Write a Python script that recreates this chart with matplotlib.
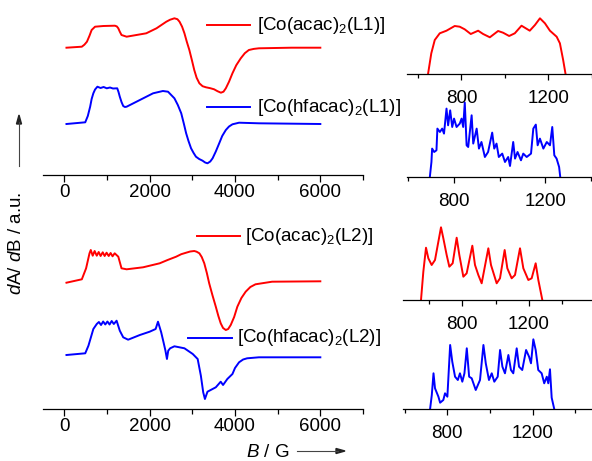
import matplotlib
matplotlib.use("Agg")
import matplotlib.pyplot as plt
from matplotlib.lines import Line2D
from matplotlib.ticker import MultipleLocator, NullFormatter

plt.rcParams["font.family"] = ["Liberation Sans", "DejaVu Sans"]
plt.rcParams["mathtext.fontset"] = "custom"
plt.rcParams["mathtext.rm"] = "Liberation Sans"
plt.rcParams["mathtext.it"] = "Liberation Sans:italic"
plt.rcParams["lines.solid_joinstyle"] = "round"

RED = "#ff0000"
BLUE = "#0000ff"

# full-field spectra, field in G, signal in a.u. (relative to baseline)
b_acac_l1 = [50, 410, 470, 530, 590, 640, 720, 915, 1185, 1230, 1265, 1300, 1340, 1460, 1920,
             2160, 2390, 2480, 2580, 2650, 2700, 2760, 2815, 2870, 2930, 2990, 3045, 3100, 3165,
             3240, 3320, 3420, 3510, 3590, 3670, 3730, 3785, 3860, 3940, 4030, 4135, 4230, 4325,
             4440, 4560, 5325, 6000]
s_acac_l1 = [0, 1, 3, 6, 12, 17.7, 21, 21.7, 22, 21.3, 19.4, 16, 12.7, 11, 14.4,
             19.4, 26, 28, 29.4, 28.5, 26, 21, 14.4, 6, -2.3, -12.5, -22.3, -30, -35.6,
             -38.5, -39.6, -40.5, -41.6, -43.5, -45, -44, -40.6, -34, -25.6, -17.5, -10.6, -5.5, -2.3,
             -1.2, -0.6, 0, 0]

b_hfac_l1 = [50, 490, 550, 605, 640, 680, 720, 775, 850, 920, 995, 1070, 1140, 1240, 1270, 1300,
             1340, 1380, 1420, 1460, 1770, 2080, 2310, 2430, 2580, 2660, 2740, 2800, 2855, 2910,
             2970, 3030, 3085, 3160, 3240, 3300, 3355, 3420, 3475, 3550, 3630, 3700, 3785, 3860,
             3940, 4095, 4560, 6000]
s_hfac_l1 = [0, 1.7, 8, 17.3, 25, 30.7, 34.5, 37.3, 36, 37, 35.7, 36.5, 35.5, 35.7, 32, 27.3,
             22, 18, 17, 17.3, 24, 30.7, 33, 32.3, 25.7, 19, 10.7, 0.5, -9.3, -17,
             -24.3, -29, -32.7, -35, -36.7, -38.5, -39.3, -37.5, -34.3, -27.5, -19.3, -12, -6, -2.5,
             -0.3, 1.3, 0.7, 0]

b_acac_l2 = [50, 410, 510, 590, 620, 665, 710, 760, 805, 850, 900, 945, 990, 1040, 1085, 1130,
             1180, 1265, 1340, 1460, 1845, 2235, 2420, 2620, 2740, 2855, 2950, 3045, 3100, 3165,
             3220, 3280, 3340, 3395, 3470, 3550, 3610, 3665, 3720, 3785, 3840, 3900, 3980, 4055,
             4150, 4250, 4360, 4480, 4870, 6000]
s_acac_l2 = [-0.7, 2.7, 13.7, 28.7, 32, 26.3, 31, 26.3, 30, 26, 29.7, 26, 29.3, 26, 29, 25.7,
             28.7, 25.3, 13.7, 12.7, 14.7, 18.7, 22, 25.3, 27.8, 29.3, 30.5, 31, 30.3, 28.7,
             25, 18.7, 9, -1.3, -13, -24.7, -34, -41.3, -46, -48, -47, -43, -35, -24.7,
             -16, -9.7, -5, -2.3, 0.3, 0.7]

b_hfac_l2 = [50, 490, 565, 680, 760, 810, 860, 910, 960, 1010, 1060, 1110, 1160, 1225, 1300, 1380,
             1495, 1770, 2000, 2140, 2195, 2270, 2325, 2370, 2405, 2435, 2480, 2580, 2815, 3010,
             3125, 3200, 3255, 3295, 3355, 3550, 3665, 3720, 3820, 3940, 4000, 4095, 4190, 4285,
             4560, 6000]
s_hfac_l2 = [0, 1.7, 9.3, 26, 31, 33, 30, 33.5, 30.5, 33.5, 30.5, 34, 31, 34.3, 24.3, 17.7,
             15.3, 20, 23.3, 26, 33.3, 22.7, 12.7, 4.3, -4, 4.3, 6.7, 8.7, 6.7, 1,
             -4, -20.7, -37.3, -44, -36.7, -32.3, -26.7, -30, -24, -19, -13, -7.3, -4.5, -3.3,
             -2.3, -2.3]

# low-field expansions
bz_acac_l1 = [646, 661, 677, 700, 731, 769, 792, 815, 843, 877, 900, 931, 969, 992, 1020, 1046,
              1077, 1115, 1139, 1162, 1185, 1208, 1239, 1254, 1269, 1280]
sz_acac_l1 = [0, 20.7, 34, 40.7, 43.3, 48, 47.3, 44.7, 40, 43.3, 40, 36.7, 43, 41.3, 38, 40.7,
              48.3, 43.3, 49, 55.7, 50.7, 43.3, 37.3, 30.7, 14, 0]

bz_hfac_l1 = [695, 702, 705, 714, 724, 728, 739, 749, 757, 768, 775, 784, 793, 801, 812, 826, 834,
              841, 848, 856, 863, 878, 885, 900, 910, 921, 936, 950, 968, 977, 987, 997, 1012,
              1024, 1038, 1046, 1060, 1068, 1079, 1094, 1104, 1119, 1138, 1148, 1159, 1167, 1177,
              1192, 1207, 1221, 1231, 1240, 1250, 1261, 1266]
sz_hfac_l1 = [0, 15, 28.4, 25, 26.7, 48.4, 45, 48.4, 43.4, 68.4, 51.7, 66.7, 50, 58.4, 50, 53.4,
              58.4, 50, 74.4, 31.7, 30, 61.7, 33.4, 48.4, 28.4, 35, 20, 25, 44.4, 28.4, 33.4, 20,
              23.4, 15, 20, 11, 35, 18.4, 25, 16.7, 23.4, 20, 23.4, 48.4, 52.4, 31.7, 38.4, 28.4,
              35, 31.7, 50, 21.7, 18.4, 10, 0]

bz_acac_l2 = [552, 566, 582, 596, 616, 636, 672, 686, 706, 722, 742, 766, 782, 806, 826, 860, 876,
              896, 916, 956, 972, 1006, 1026, 1054, 1070, 1096, 1116, 1146, 1166, 1196, 1216,
              1240, 1256, 1280]
sz_acac_l2 = [0, 28.3, 52.3, 41.7, 35, 40, 72.7, 61.7, 45, 33.3, 36.7, 62.3, 45, 23.3, 26.7, 54.3,
              35, 25, 16.7, 51.7, 35, 16.7, 21.7, 50, 31.7, 21.7, 25, 51.7, 31.7, 20, 21.7, 36.7,
              20, 0]

bz_hfac_l2 = [719, 727, 735, 742, 758, 766, 781, 789, 800, 813, 823, 836, 849, 859, 870, 880, 891,
              902, 914, 933, 953, 969, 980, 995, 1008, 1020, 1036, 1047, 1058, 1070, 1086, 1098,
              1109, 1125, 1136, 1151, 1169, 1183, 1192, 1203, 1214, 1226, 1242, 1254, 1266, 1273,
              1281, 1289, 1301]
sz_hfac_l2 = [0, 14, 35.7, 20.7, 12.3, 6.3, 9, 15.7, 12.3, 64, 47.3, 32.3, 29, 35.7, 27.3, 35.7,
              60.7, 32.3, 30.7, 19, 29, 64, 45.7, 29, 35.7, 27.3, 32.3, 59, 42.3, 35.7, 54, 39,
              35.7, 60.7, 42.3, 39, 59, 52.3, 45.7, 69.7, 59, 39, 35.7, 25.7, 32.3, 25.7, 39.7,
              11.3, 0]

W, H = 592, 461
fig = plt.figure(figsize=(W / 100, H / 100), dpi=100)


def px_axes(left, top, right, bottom):
    return fig.add_axes([left / W, 1 - bottom / H, (right - left) / W, (bottom - top) / H])


def style(ax, major, minor, pad, length):
    for side in ("left", "top", "right"):
        ax.spines[side].set_visible(False)
    ax.spines["bottom"].set_linewidth(0.9)
    ax.set_yticks([])
    ax.xaxis.set_major_locator(MultipleLocator(major))
    ax.xaxis.set_minor_locator(MultipleLocator(minor))
    ax.xaxis.set_minor_formatter(NullFormatter())
    ax.tick_params(axis="x", which="major", direction="out", length=length, width=0.9,
                   labelsize=13.5, pad=pad)
    ax.tick_params(axis="x", which="minor", direction="out", length=length * 0.7, width=0.9)
    ax.patch.set_alpha(0)


def fig_line(x0, x1, y, color):
    fig.add_artist(Line2D([x0 / W, x1 / W], [1 - y / H, 1 - y / H], color=color, lw=1.4,
                          transform=fig.transFigure))


def fig_text(x, y, s, **kw):
    fig.text(x / W, 1 - y / H, s, fontsize=13.5, va="center", **kw)


# main spectra
ax1 = px_axes(43, 5, 363, 175)
ax1.plot(b_acac_l1, [v + 127.3 for v in s_acac_l1], color=RED, lw=1.4)
ax1.plot(b_hfac_l1, [v + 51 for v in s_hfac_l1], color=BLUE, lw=1.4)
ax1.set_xlim(-500, 7000)
ax1.set_ylim(0, 170)
style(ax1, 2000, 1000, 1.5, 5)

ax2 = px_axes(43, 230, 363, 409)
ax2.plot(b_acac_l2, [v + 127 for v in s_acac_l2], color=RED, lw=1.4)
ax2.plot(b_hfac_l2, [v + 54 for v in s_hfac_l2], color=BLUE, lw=1.4)
ax2.set_xlim(-500, 7000)
ax2.set_ylim(0, 179)
style(ax2, 2000, 1000, 1.5, 5)

# expansions of the low-field region
insets = [
    ((407, 10, 592, 74), (549, 1402), 64, bz_acac_l1, sz_acac_l1, RED),
    ((407, 95, 592, 177), (595, 1405), 82, bz_hfac_l1, sz_hfac_l1, BLUE),
    ((403, 215, 592, 300), (444, 1578), 85, bz_acac_l2, sz_acac_l2, RED),
    ((403, 330, 592, 409), (592, 1478), 79, bz_hfac_l2, sz_hfac_l2, BLUE),
]
for box, xlim, top, bx, sx, col in insets:
    ax = px_axes(*box)
    ax.plot(bx, sx, color=col, lw=1.4)
    ax.set_xlim(*xlim)
    ax.set_ylim(0, top)
    style(ax, 400, 200, 7, 4.5)

# legend entries
fig_line(207, 250, 25, RED)
fig_text(257, 25, r"[Co(acac)$_2$(L1)]")
fig_line(207, 250, 107, BLUE)
fig_text(257, 107, r"[Co(hfacac)$_2$(L1)]")
fig_line(197, 240, 236, RED)
fig_text(245, 236, r"[Co(acac)$_2$(L2)]")
fig_line(188, 232, 338, BLUE)
fig_text(237, 338, r"[Co(hfacac)$_2$(L2)]")

# axis titles with arrows
fig.text(17 / W, 1 - 243 / H, r"$d$A/ $d$B / a.u.", fontsize=13.5, rotation=90,
         ha="center", va="center")
fig.add_artist(Line2D([19 / W, 19 / W], [1 - 166 / H, 1 - 122 / H], color="#444444", lw=0.8,
                      transform=fig.transFigure))
fig.patches.append(plt.Polygon([(16.5 / W, 1 - 124 / H), (21.5 / W, 1 - 124 / H),
                                (19 / W, 1 - 115 / H)], closed=True, color="#222222",
                               transform=fig.transFigure, figure=fig))
fig.text(268 / W, 1 - 452 / H, r"$B$ / G", fontsize=13.5, ha="center", va="center")
fig.add_artist(Line2D([297 / W, 338 / W], [1 - 451 / H, 1 - 451 / H], color="#444444", lw=0.8,
                      transform=fig.transFigure))
fig.patches.append(plt.Polygon([(336 / W, 1 - 448.5 / H), (336 / W, 1 - 453.5 / H),
                                (345 / W, 1 - 451 / H)], closed=True, color="#222222",
                               transform=fig.transFigure, figure=fig))

fig.savefig("out.png", dpi=100)
